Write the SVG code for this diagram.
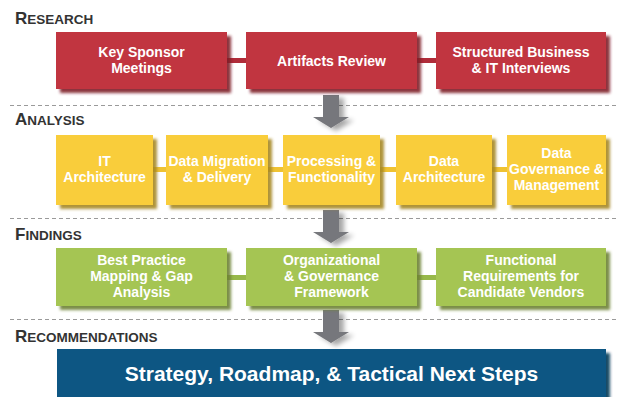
<svg xmlns="http://www.w3.org/2000/svg" width="618" height="397" viewBox="0 0 618 397">
  <defs>
    <!-- tinted drop shadow: darkened copy of the shape, blurred and offset -->
    <filter id="boxShadow" x="-10%" y="-10%" width="125%" height="135%">
      <feColorMatrix in="SourceGraphic" type="matrix" values="0.4 0 0 0 0  0 0.4 0 0 0  0 0 0.4 0 0  0 0 0 0.9 0" result="dark"/>
      <feGaussianBlur in="dark" stdDeviation="1.6" result="blur"/>
      <feOffset in="blur" dx="4" dy="4" result="off"/>
      <feMerge><feMergeNode in="off"/><feMergeNode in="SourceGraphic"/></feMerge>
    </filter>
    <filter id="arrowShadow" x="-30%" y="-20%" width="180%" height="160%">
      <feGaussianBlur in="SourceAlpha" stdDeviation="2.5" result="blur"/>
      <feOffset in="blur" dx="5" dy="3" result="off"/>
      <feComponentTransfer in="off" result="soft"><feFuncA type="linear" slope="0.35"/></feComponentTransfer>
      <feMerge><feMergeNode in="soft"/><feMergeNode in="SourceGraphic"/></feMerge>
    </filter>
    <path id="downArrow" d="M-8 0 H8 V22 H18 L0 33 L-18 22 H-8 Z"/>
  </defs>
  <style>
    .head { font-family: "Liberation Sans", Arial, sans-serif; font-weight: bold; fill: #333333; }
    .cap { font-size: 17px; }
    .sc { font-size: 13.5px; }
    .lbl { font-family: "Liberation Sans", Arial, sans-serif; font-weight: bold; font-size: 14px; fill: #ffffff; text-anchor: middle; }
    .red { fill: #c13441; }
    .yel { fill: #f9cd3b; }
    .grn { fill: #a5c553; }
    .blu { fill: #0b5683; }
    .redBar { fill: #b02c39; }
    .yelBar { fill: #efc232; }
    .grnBar { fill: #97b84a; }
    .arrow { fill: #76777b; }
    .sep { stroke: #9a9a9a; stroke-width: 1; stroke-dasharray: 4 3; fill: none; }
  </style>

  <rect width="618" height="397" fill="#ffffff"/>

  <!-- section separators -->
  <g id="separators">
    <line class="sep" x1="10" y1="105.5" x2="618" y2="105.5"/>
    <line class="sep" x1="10" y1="218.5" x2="618" y2="218.5"/>
    <line class="sep" x1="10" y1="319.5" x2="618" y2="319.5"/>
  </g>

  <!-- section headings -->
  <g id="headings">
    <text class="head" x="15" y="24"><tspan class="cap">R</tspan><tspan class="sc">ESEARCH</tspan></text>
    <text class="head" x="15" y="125"><tspan class="cap">A</tspan><tspan class="sc">NALYSIS</tspan></text>
    <text class="head" x="15" y="240"><tspan class="cap">F</tspan><tspan class="sc">INDINGS</tspan></text>
    <text class="head" x="15" y="342"><tspan class="cap">R</tspan><tspan class="sc">ECOMMENDATIONS</tspan></text>
  </g>

  <!-- connectors: bars between boxes and arrows between stages -->
  <g id="connectors">
    <rect class="redBar" x="226" y="58" width="21" height="5"/>
    <rect class="redBar" x="416" y="58" width="21" height="5"/>
    <rect class="yelBar" x="152" y="167" width="15" height="5"/>
    <rect class="yelBar" x="267" y="167" width="17" height="5"/>
    <rect class="yelBar" x="379" y="167" width="18" height="5"/>
    <rect class="yelBar" x="491" y="167" width="17" height="5"/>
    <rect class="grnBar" x="226" y="275" width="21" height="5"/>
    <rect class="grnBar" x="416" y="275" width="21" height="5"/>
    <use href="#downArrow" class="arrow" x="331" y="95" filter="url(#arrowShadow)"/>
    <use href="#downArrow" class="arrow" x="331" y="210" filter="url(#arrowShadow)"/>
    <use href="#downArrow" class="arrow" x="331" y="310" filter="url(#arrowShadow)"/>
  </g>

  <!-- research -->
  <g id="key-sponsor-meetings">
    <rect class="red" x="56" y="32" width="171" height="57" filter="url(#boxShadow)"/>
    <text class="lbl" x="141.5" y="57">Key Sponsor</text>
    <text class="lbl" x="141.5" y="73">Meetings</text>
  </g>
  <g id="artifacts-review">
    <rect class="red" x="246" y="32" width="171" height="57" filter="url(#boxShadow)"/>
    <text class="lbl" x="331.5" y="65.5">Artifacts Review</text>
  </g>
  <g id="structured-interviews">
    <rect class="red" x="436" y="32" width="170" height="57" filter="url(#boxShadow)"/>
    <text class="lbl" x="521" y="57">Structured Business</text>
    <text class="lbl" x="521" y="73">&amp; IT Interviews</text>
  </g>

  <!-- analysis -->
  <g id="it-architecture">
    <rect class="yel" x="56" y="135" width="97" height="70" filter="url(#boxShadow)"/>
    <text class="lbl" x="104.5" y="166">IT</text>
    <text class="lbl" x="104.5" y="182">Architecture</text>
  </g>
  <g id="data-migration">
    <rect class="yel" x="166" y="135" width="102" height="70" filter="url(#boxShadow)"/>
    <text class="lbl" x="217" y="166">Data Migration</text>
    <text class="lbl" x="217" y="182">&amp; Delivery</text>
  </g>
  <g id="processing-functionality">
    <rect class="yel" x="283" y="135" width="97" height="70" filter="url(#boxShadow)"/>
    <text class="lbl" x="331.5" y="166">Processing &amp;</text>
    <text class="lbl" x="331.5" y="182">Functionality</text>
  </g>
  <g id="data-architecture">
    <rect class="yel" x="396" y="135" width="96" height="70" filter="url(#boxShadow)"/>
    <text class="lbl" x="444" y="166">Data</text>
    <text class="lbl" x="444" y="182">Architecture</text>
  </g>
  <g id="data-governance">
    <rect class="yel" x="507" y="135" width="99" height="70" filter="url(#boxShadow)"/>
    <text class="lbl" x="556.5" y="158">Data</text>
    <text class="lbl" x="556.5" y="174">Governance &amp;</text>
    <text class="lbl" x="556.5" y="190">Management</text>
  </g>

  <!-- findings -->
  <g id="best-practice-mapping">
    <rect class="grn" x="56" y="248" width="171" height="58" filter="url(#boxShadow)"/>
    <text class="lbl" x="141.5" y="265">Best Practice</text>
    <text class="lbl" x="141.5" y="281">Mapping &amp; Gap</text>
    <text class="lbl" x="141.5" y="297">Analysis</text>
  </g>
  <g id="governance-framework">
    <rect class="grn" x="246" y="248" width="171" height="58" filter="url(#boxShadow)"/>
    <text class="lbl" x="331.5" y="265">Organizational</text>
    <text class="lbl" x="331.5" y="281">&amp; Governance</text>
    <text class="lbl" x="331.5" y="297">Framework</text>
  </g>
  <g id="functional-requirements">
    <rect class="grn" x="436" y="248" width="170" height="58" filter="url(#boxShadow)"/>
    <text class="lbl" x="521" y="265">Functional</text>
    <text class="lbl" x="521" y="281">Requirements for</text>
    <text class="lbl" x="521" y="297">Candidate Vendors</text>
  </g>

  <!-- recommendations -->
  <g id="strategy-roadmap">
    <rect class="blu" x="57" y="349" width="549" height="60" filter="url(#boxShadow)"/>
    <text class="lbl" x="331.5" y="381" style="font-size:21px">Strategy, Roadmap, &amp; Tactical Next Steps</text>
  </g>
</svg>
